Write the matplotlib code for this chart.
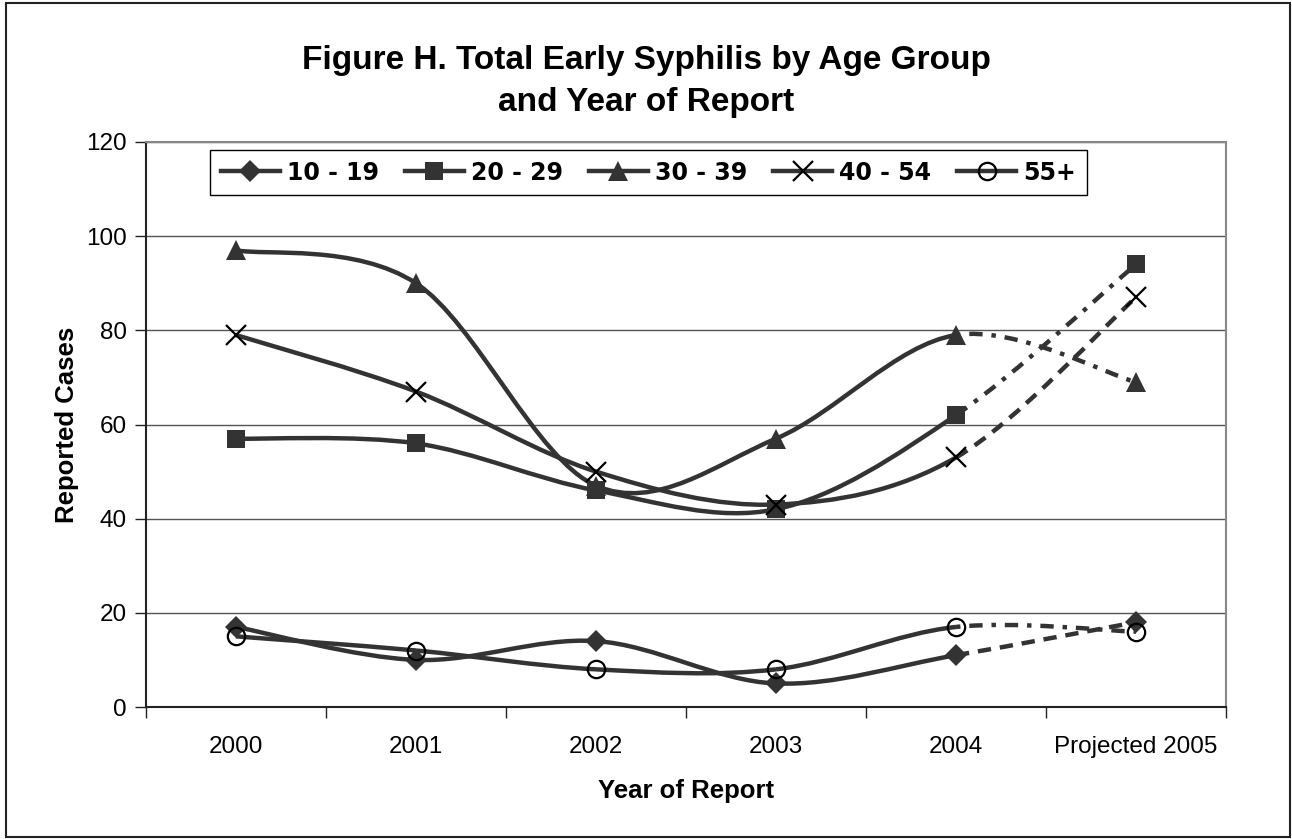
import numpy as np
import matplotlib
matplotlib.use("Agg")
import matplotlib.pyplot as plt
from matplotlib.path import Path
from matplotlib.patches import PathPatch, Rectangle
from matplotlib.lines import Line2D

# ==========================
# DATA
# ==========================
years = ["2000", "2001", "2002", "2003", "2004", "Projected 2005"]
groups = ["10 - 19", "20 - 29", "30 - 39", "40 - 54", "55+"]
age_10_19 = [17, 10, 14, 5, 11, 18]
age_20_29 = [57, 56, 46, 42, 62, 94]
age_30_39 = [97, 90, 47, 57, 79, 69]
age_40_54 = [79, 67, 50, 43, 53, 87]
age_55_up = [15, 12, 8, 8, 17, 16]
series = [age_10_19, age_20_29, age_30_39, age_40_54, age_55_up]

# ==========================
# STYLE
# ==========================
LINE = "#333333"
markers = [
    dict(marker="D", ms=11, mfc=LINE, mec=LINE, mew=0),
    dict(marker="s", ms=12.5, mfc=LINE, mec=LINE, mew=0),
    dict(marker="^", ms=14, mfc=LINE, mec=LINE, mew=0),
    dict(marker="x", ms=14, mfc="none", mec="black", mew=1.6),
    dict(marker="o", ms=12.5, mfc="none", mec="black", mew=1.6),
]
proj_styles = [(0, (3, 2)), (0, (3, 2, 1, 2)), (0, (1, 2, 3, 2)), (0, (3, 2)), (0, (1, 2, 3, 2))]


def bezier_paths(xs, ys):
    """Excel-like smoothed line as cubic bezier segments (one Path per segment)."""
    pts = np.column_stack([xs, ys]).astype(float)
    n = len(pts)
    segs = []
    for i in range(n - 1):
        p0 = pts[max(i - 1, 0)]
        p1 = pts[i]
        p2 = pts[i + 1]
        p3 = pts[min(i + 2, n - 1)]
        c1 = p1 + (p2 - p0) / 6.0
        c2 = p2 - (p3 - p1) / 6.0
        segs.append(Path([p1, c1, c2, p2],
                         [Path.MOVETO, Path.CURVE4, Path.CURVE4, Path.CURVE4]))
    return segs


W, H = 1292, 839
fig = plt.figure(figsize=(W / 100, H / 100), dpi=100)
ax = fig.add_axes([146 / W, 1 - 707 / H, (1226 - 146) / W, (707 - 142) / H])

x = np.arange(len(years))
for vals, mk, ps in zip(series, markers, proj_styles):
    segs = bezier_paths(x, vals)
    for j, seg in enumerate(segs):
        proj = j == len(segs) - 1
        ax.add_patch(PathPatch(seg, fill=False, edgecolor=LINE, lw=3.2,
                               linestyle=ps if proj else "-",
                               capstyle="butt", zorder=3))
    ax.plot(x, vals, linestyle="none", zorder=4, **mk)

ax.set_xlim(-0.5, 5.5)
ax.set_ylim(0, 120)
ax.yaxis.grid(True, color="#555555", lw=1.0)
ax.set_axisbelow(True)

TICKFONT = dict(family="Liberation Sans", size=17.5)
ax.set_xticks(np.arange(-0.5, 5.6, 1.0))
ax.set_xticklabels([])
ax.set_xticks(x, minor=True)
ax.set_xticklabels(years, minor=True, fontdict=TICKFONT)
ax.set_yticks(np.arange(0, 121, 20))
ax.set_yticklabels([str(v) for v in range(0, 121, 20)], fontdict=TICKFONT)
ax.tick_params(axis="x", which="major", length=8, width=1, color="#222222")
ax.tick_params(axis="x", which="minor", length=0, pad=21)
ax.tick_params(axis="y", length=8, width=1, color="#222222", pad=6)

for side in ["top", "right"]:
    ax.spines[side].set_color("#888888")
    ax.spines[side].set_linewidth(1.5)
for side in ["left", "bottom"]:
    ax.spines[side].set_color("#222222")
    ax.spines[side].set_linewidth(1.5)

ax.set_ylabel("Reported Cases", fontsize=18.5, fontweight="bold",
              family="Liberation Sans", labelpad=5)
ax.set_xlabel("Year of Report", fontsize=18.5, fontweight="bold",
              family="Liberation Sans", labelpad=15)

fig.text(0.5, 1 - 69 / H, "Figure H. Total Early Syphilis by Age Group",
         ha="center", va="baseline", fontsize=24, fontweight="bold",
         family="Liberation Sans")
fig.text(0.5, 1 - 111 / H, "and Year of Report",
         ha="center", va="baseline", fontsize=24, fontweight="bold",
         family="Liberation Sans")

handles = [Line2D([], [], color=LINE, lw=3.2, **mk) for mk in markers]
leg = ax.legend(handles, groups, ncol=5, loc="upper left",
                bbox_to_anchor=((210 - 146) / 1080, 1 - (150 - 142) / 565),
                frameon=True, fancybox=False, edgecolor="black", framealpha=1,
                prop=dict(size=17, weight="bold"), handlelength=2.5,
                handletextpad=0.3, columnspacing=1.1, borderpad=0.45,
                borderaxespad=0)
leg.get_frame().set_linewidth(1.0)

fig.patches.append(Rectangle((6 / W, 2 / H), 1284 / W, 834 / H,
                             transform=fig.transFigure, fill=False,
                             edgecolor="#222222", lw=1.5))

fig.savefig("out.png", dpi=100)
